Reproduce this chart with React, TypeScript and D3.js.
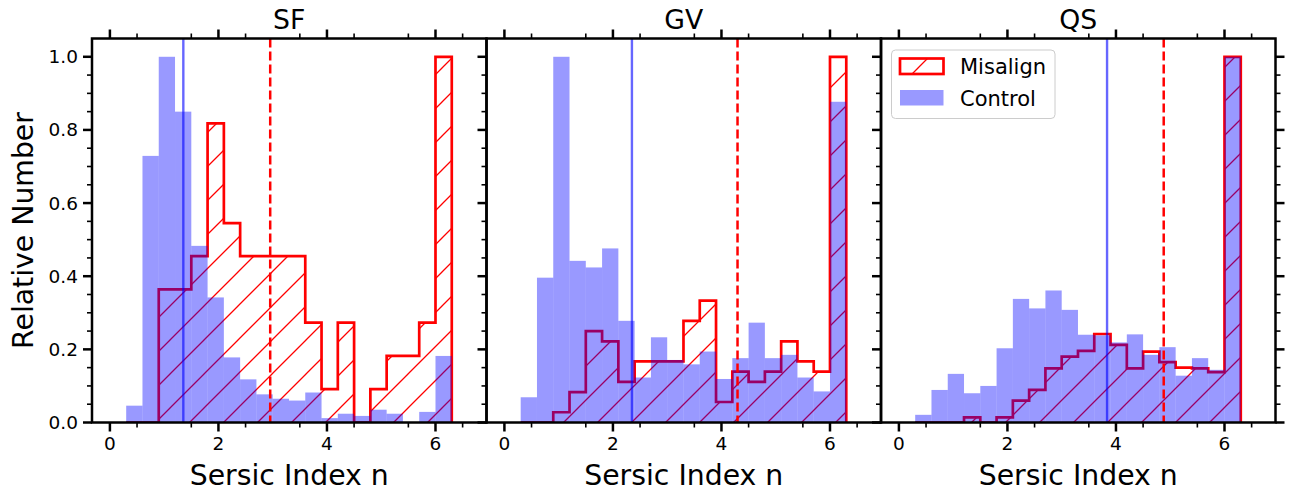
import React from "react";
import * as d3 from "d3";

const panels = ["SF", "GV", "QS"];
const binEdges = [0.3, 0.6, 0.9, 1.2, 1.5, 1.8, 2.1, 2.4, 2.7, 3.0, 3.3, 3.6, 3.9, 4.2, 4.5, 4.8, 5.1, 5.4, 5.7, 6.0, 6.3];

const sfControl = [0.046, 0.729, 1.0, 0.85, 0.483, 0.342, 0.178, 0.118, 0.077, 0.065, 0.06, 0.082, 0.012, 0.024, 0.018, 0.035, 0.024, 0, 0.029, 0.182];
const sfMisalign = [0, 0, 0.364, 0.364, 0.455, 0.818, 0.545, 0.455, 0.455, 0.455, 0.455, 0.273, 0.091, 0.273, 0, 0.091, 0.182, 0.182, 0.273, 1.0];
const gvControl = [0.069, 0.396, 1.0, 0.442, 0.424, 0.476, 0.278, 0.123, 0.233, 0.171, 0.159, 0.194, 0.119, 0.176, 0.273, 0.176, 0.185, 0.123, 0.085, 0.877];
const gvMisalign = [0, 0, 0.028, 0.083, 0.25, 0.222, 0.111, 0.167, 0.167, 0.167, 0.278, 0.333, 0.056, 0.139, 0.111, 0.139, 0.222, 0.167, 0.139, 1.0];
const qsControl = [0.021, 0.089, 0.133, 0.08, 0.1, 0.203, 0.338, 0.312, 0.361, 0.308, 0.24, 0.238, 0.219, 0.241, 0.185, 0.206, 0.128, 0.176, 0.144, 1.0];
const qsMisalign = [0, 0, 0, 0.014, 0, 0.014, 0.06, 0.089, 0.148, 0.18, 0.196, 0.242, 0.212, 0.148, 0.194, 0.165, 0.15, 0.148, 0.138, 1.0];

const controlMedians = [1.353, 2.35, 3.836];
const misalignMedians = [2.954, 4.296, 4.88];

const xTickLabels = [0, 2, 4, 6];
const yTickLabels = [0.0, 0.2, 0.4, 0.6, 0.8, 1.0];

const controlSeries = [sfControl, gvControl, qsControl];
const misalignSeries = [sfMisalign, gvMisalign, qsMisalign];

const W = 1289, H = 492;
const panelLefts = [92, 486.5, 881];
const panelW = 394.5;
const top = 38.5, bottom = 422.5;
const FONT = "DejaVu Sans, sans-serif";
const MAJ = 9, MIN = 5;

export default function App() {
  const y = d3.scaleLinear().domain([0, 1.05]).range([bottom, top]);
  const yMinor = d3.range(0, 1.0001, 0.05).filter((v) => Math.abs(v * 5 - Math.round(v * 5)) > 1e-6);
  const xMinor = d3.range(0.5, 6.6, 1);

  return (
    <svg width={W} height={H} style={{ position: "absolute", left: 0, top: 0, background: "#fff" }} fontFamily={FONT}>
      <defs>
        <pattern id="hatchRed" patternUnits="userSpaceOnUse" x={0} y={0} width={34} height={34}>
          <path d="M0,34 L34,0 M-2,2 L2,-2 M32,36 L36,32" stroke="#ff0000" strokeWidth={1.3} fill="none" />
        </pattern>
      </defs>
      <rect x={0} y={0} width={W} height={H} fill="#fff" />
      {panels.map((name, pi) => {
        const left = panelLefts[pi];
        const x = d3.scaleLinear().domain([-0.33, 6.94]).range([left, left + panelW]);
        const mis = misalignSeries[pi];
        const ctl = controlSeries[pi];
        const pts: [number, number][] = [[binEdges[0], 0]];
        mis.forEach((h, i) => {
          pts.push([binEdges[i], h]);
          pts.push([binEdges[i + 1], h]);
        });
        pts.push([binEdges[binEdges.length - 1], 0]);
        const line = d3.line<[number, number]>().x((d) => x(d[0])).y((d) => y(d[1]));
        const stepD = line(pts) as string;
        return (
          <g key={name}>
            <defs>
              <clipPath id={`clip${pi}`}>
                <rect x={left} y={top} width={panelW} height={bottom - top} />
              </clipPath>
            </defs>
            <g clipPath={`url(#clip${pi})`}>
              <path d={stepD + "Z"} fill="url(#hatchRed)" stroke="none" />
              <path d={stepD} fill="none" stroke="#ff0000" strokeWidth={2.7} strokeLinejoin="miter" />
              {ctl.map((h, i) => (
                <rect key={i} x={x(binEdges[i])} y={y(h)} width={x(binEdges[i + 1]) - x(binEdges[i])} height={y(0) - y(h)} fill="#0000ff" fillOpacity={0.4} />
              ))}
              <line x1={x(controlMedians[pi])} x2={x(controlMedians[pi])} y1={top} y2={bottom} stroke="#0000ff" strokeOpacity={0.6} strokeWidth={2.4} />
              <line x1={x(misalignMedians[pi])} x2={x(misalignMedians[pi])} y1={top} y2={bottom} stroke="#ff0000" strokeWidth={2.5} strokeDasharray="9,4" />
            </g>
            <rect x={left} y={top} width={panelW} height={bottom - top} fill="none" stroke="#000" strokeWidth={2.5} />
            {xTickLabels.map((v) => (
              <g key={"xt" + v}>
                <line x1={x(v)} x2={x(v)} y1={bottom} y2={bottom + MAJ} stroke="#000" strokeWidth={2.5} />
                <line x1={x(v)} x2={x(v)} y1={top} y2={top - MAJ} stroke="#000" strokeWidth={2.5} />
                <text x={x(v)} y={450} textAnchor="middle" fontSize={18.5}>{String(v)}</text>
              </g>
            ))}
            {xMinor.map((v) => (
              <g key={"xm" + v}>
                <line x1={x(v)} x2={x(v)} y1={bottom} y2={bottom + MIN} stroke="#000" strokeWidth={1.6} />
                <line x1={x(v)} x2={x(v)} y1={top} y2={top - MIN} stroke="#000" strokeWidth={1.6} />
              </g>
            ))}
            {yTickLabels.map((v) => (
              <g key={"yt" + v}>
                <line x1={left} x2={left - MAJ} y1={y(v)} y2={y(v)} stroke="#000" strokeWidth={2.5} />
                {pi === 2 && <line x1={left + panelW} x2={left + panelW + MAJ} y1={y(v)} y2={y(v)} stroke="#000" strokeWidth={2.5} />}
                {pi === 0 && (
                  <text x={left - MAJ - 5} y={y(v)} textAnchor="end" dominantBaseline="central" fontSize={18.5}>{v.toFixed(1)}</text>
                )}
              </g>
            ))}
            {yMinor.map((v) => (
              <g key={"ym" + v}>
                <line x1={left} x2={left - MIN} y1={y(v)} y2={y(v)} stroke="#000" strokeWidth={1.6} />
                {pi === 2 && <line x1={left + panelW} x2={left + panelW + MIN} y1={y(v)} y2={y(v)} stroke="#000" strokeWidth={1.6} />}
              </g>
            ))}
            <text x={left + panelW / 2} y={29} textAnchor="middle" fontSize={26.7}>{name}</text>
            <text x={left + panelW / 2} y={485} textAnchor="middle" fontSize={28.3}>Sersic Index n</text>
          </g>
        );
      })}
      <text transform={`translate(33,${(top + bottom) / 2}) rotate(-90)`} textAnchor="middle" fontSize={28.3}>Relative Number</text>
      <g>
        <rect x={891.5} y={50} width={163.5} height={68.5} rx={4} fill="#fff" fillOpacity={0.8} stroke="#cccccc" strokeWidth={1} />
        <rect x={900} y={58.5} width={43.5} height={15.5} fill="url(#hatchRed)" stroke="#ff0000" strokeWidth={2.7} />
        <text x={960} y={73.5} fontSize={21}>Misalign</text>
        <rect x={900} y={90} width={43.5} height={15.5} fill="#0000ff" fillOpacity={0.4} />
        <text x={960} y={105.5} fontSize={21}>Control</text>
      </g>
    </svg>
  );
}
